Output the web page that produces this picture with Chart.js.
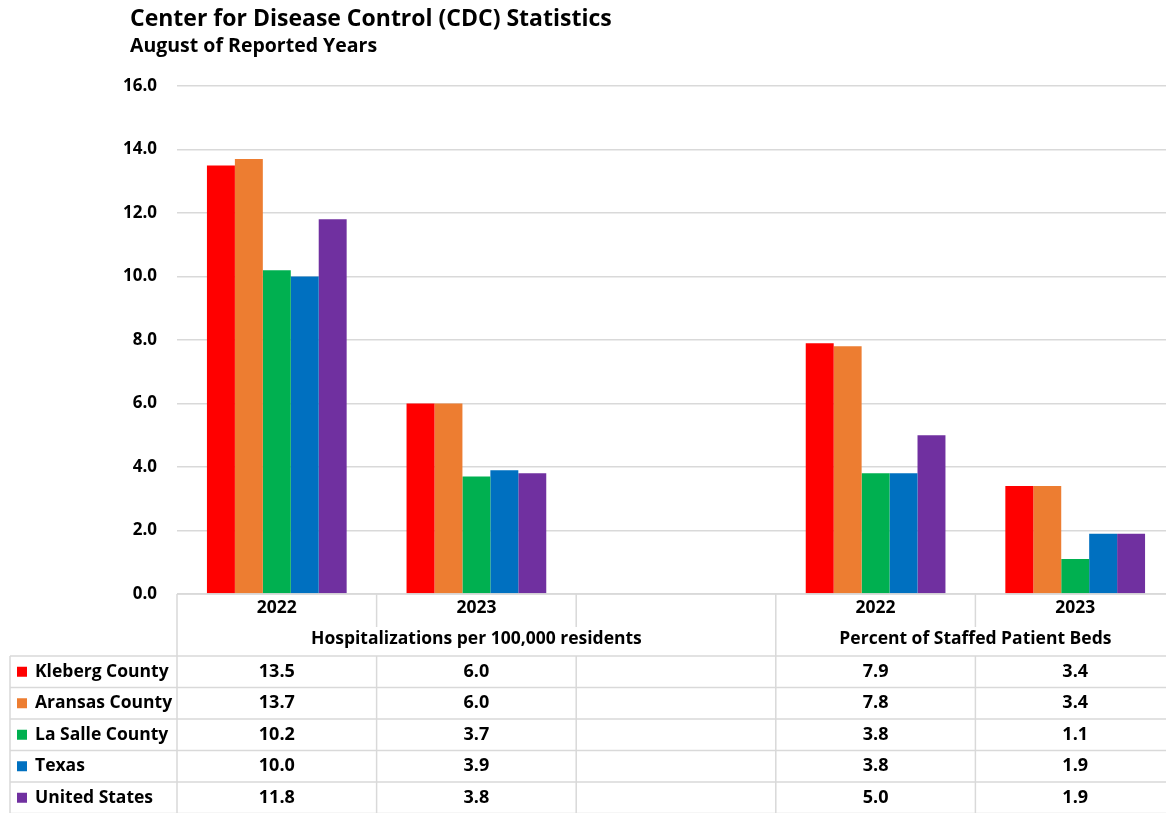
<!DOCTYPE html>
<html>
<head>
<meta charset="utf-8">
<script src="https://cdn.jsdelivr.net/npm/chart.js@4"></script>
<style>
  html, body { margin: 0; padding: 0; background: #fff; overflow: hidden; }
  #wrap { width: 1176px; height: 813px; }
</style>
</head>
<body>
<div id="wrap"><canvas id="c" width="1176" height="813"></canvas></div>
<script>
// Categories along the x axis (blank column separates the two measures)
const categories = ['2022', '2023', '', '2022', '2023'];
const groupLabels = ['Hospitalizations per 100,000 residents', 'Percent of Staffed Patient Beds'];
const groupSpans = [[0, 2], [3, 4]];

const seriesNames = ['Kleberg County', 'Aransas County', 'La Salle County', 'Texas', 'United States'];
const seriesColors = ['#FF0000', '#ED7D31', '#00B050', '#0070C0', '#7030A0'];

const klebergCounty = [13.5, 6.0, null, 7.9, 3.4];
const aransasCounty = [13.7, 6.0, null, 7.8, 3.4];
const laSalleCounty = [10.2, 3.7, null, 3.8, 1.1];
const texas = [10.0, 3.9, null, 3.8, 1.9];
const unitedStates = [11.8, 3.8, null, 5.0, 1.9];

const yTicks = [0, 2, 4, 6, 8, 10, 12, 14, 16];

const titleText = 'Center for Disease Control (CDC) Statistics';
const subtitleText = 'August of Reported Years';

const seriesValues = [klebergCounty, aransasCounty, laSalleCounty, texas, unitedStates];
const FONT = '"Open Sans", Lato, sans-serif';
const GRID = '#d9d9d9';

// Draws the header text and the data table beneath the plot
const tablePlugin = {
  id: 'dataTable',
  afterDraw(chart) {
    const ctx = chart.ctx;
    const x = chart.scales.x;
    const area = chart.chartArea;
    const n = categories.length;
    const colW = (area.right - area.left) / n;
    const edge = i => area.left + i * colW;
    const top = area.bottom;
    const catBottom = top + 33;
    const headBottom = top + 62;
    const rowH = 31.5;
    const bottom = headBottom + rowH * seriesNames.length;
    const tableLeft = 10;

    ctx.save();
    // titles
    ctx.fillStyle = '#000';
    ctx.textAlign = 'left';
    ctx.textBaseline = 'alphabetic';
    ctx.font = 'bold 23px ' + FONT;
    ctx.fillText(titleText, 130, 26);
    ctx.font = 'bold 19.5px ' + FONT;
    ctx.fillText(subtitleText, 130, 52);

    // table grid
    ctx.strokeStyle = GRID;
    ctx.lineWidth = 1.5;
    const line = (x1, y1, x2, y2) => {
      ctx.beginPath(); ctx.moveTo(x1, y1); ctx.lineTo(x2, y2); ctx.stroke();
    };
    line(area.left, top, area.right, top);
    line(tableLeft, headBottom, area.right, headBottom);
    for (let r = 1; r <= seriesNames.length; r++) {
      line(tableLeft, headBottom + r * rowH, area.right, headBottom + r * rowH);
    }
    line(tableLeft, headBottom, tableLeft, bottom);
    const groupEdges = new Set();
    groupSpans.forEach(s => { groupEdges.add(s[0]); groupEdges.add(s[1] + 1); });
    for (let i = 0; i <= n; i++) {
      const px = edge(i);
      if (groupEdges.has(i)) {
        line(px, top, px, bottom);
      } else {
        line(px, top, px, catBottom);
        line(px, headBottom, px, bottom);
      }
    }

    // category labels
    ctx.fillStyle = '#000';
    ctx.textAlign = 'center';
    ctx.textBaseline = 'middle';
    ctx.font = 'bold 17.5px ' + FONT;
    categories.forEach((c, i) => {
      if (c) ctx.fillText(c, x.getPixelForValue(i), top + 14);
    });
    // group labels
    ctx.font = 'bold 17.5px ' + FONT;
    groupSpans.forEach((s, g) => {
      const cx = (edge(s[0]) + edge(s[1] + 1)) / 2;
      ctx.fillText(groupLabels[g], cx, top + 45);
    });

    // rows
    seriesNames.forEach((name, r) => {
      const cy = headBottom + r * rowH + rowH / 2;
      ctx.fillStyle = seriesColors[r];
      ctx.fillRect(17, cy - 5, 10, 10);
      ctx.fillStyle = '#000';
      ctx.textAlign = 'left';
      ctx.font = 'bold 17.5px ' + FONT;
      ctx.fillText(name, 35, cy);
      ctx.textAlign = 'center';
      ctx.font = 'bold 18px ' + FONT;
      seriesValues[r].forEach((v, i) => {
        if (v !== null) ctx.fillText(v.toFixed(1), x.getPixelForValue(i), cy);
      });
    });
    ctx.restore();
  }
};

new Chart(document.getElementById('c'), {
  type: 'bar',
  data: {
    labels: categories,
    datasets: seriesNames.map((name, i) => ({
      label: name,
      data: seriesValues[i],
      backgroundColor: seriesColors[i],
      borderWidth: 0,
      categoryPercentage: 0.7,
      barPercentage: 1.0
    }))
  },
  options: {
    responsive: false,
    devicePixelRatio: 1,
    animation: false,
    layout: { padding: { top: 86, bottom: 219, left: 0, right: 1 } },
    plugins: { legend: { display: false }, title: { display: false }, tooltip: { enabled: false } },
    scales: {
      x: { display: false },
      y: {
        min: 0,
        max: 16,
        afterBuildTicks(scale) { scale.ticks = yTicks.map(v => ({ value: v })); },
        afterFit(scale) { scale.width = 177; },
        ticks: {
          padding: 20,
          color: '#000',
          font: { family: FONT, size: 17, weight: 'bold' },
          callback: v => Number(v).toFixed(1)
        },
        grid: { color: GRID, lineWidth: 1.5, drawTicks: false },
        border: { display: false }
      }
    }
  },
  plugins: [tablePlugin]
});
</script>
</body>
</html>
